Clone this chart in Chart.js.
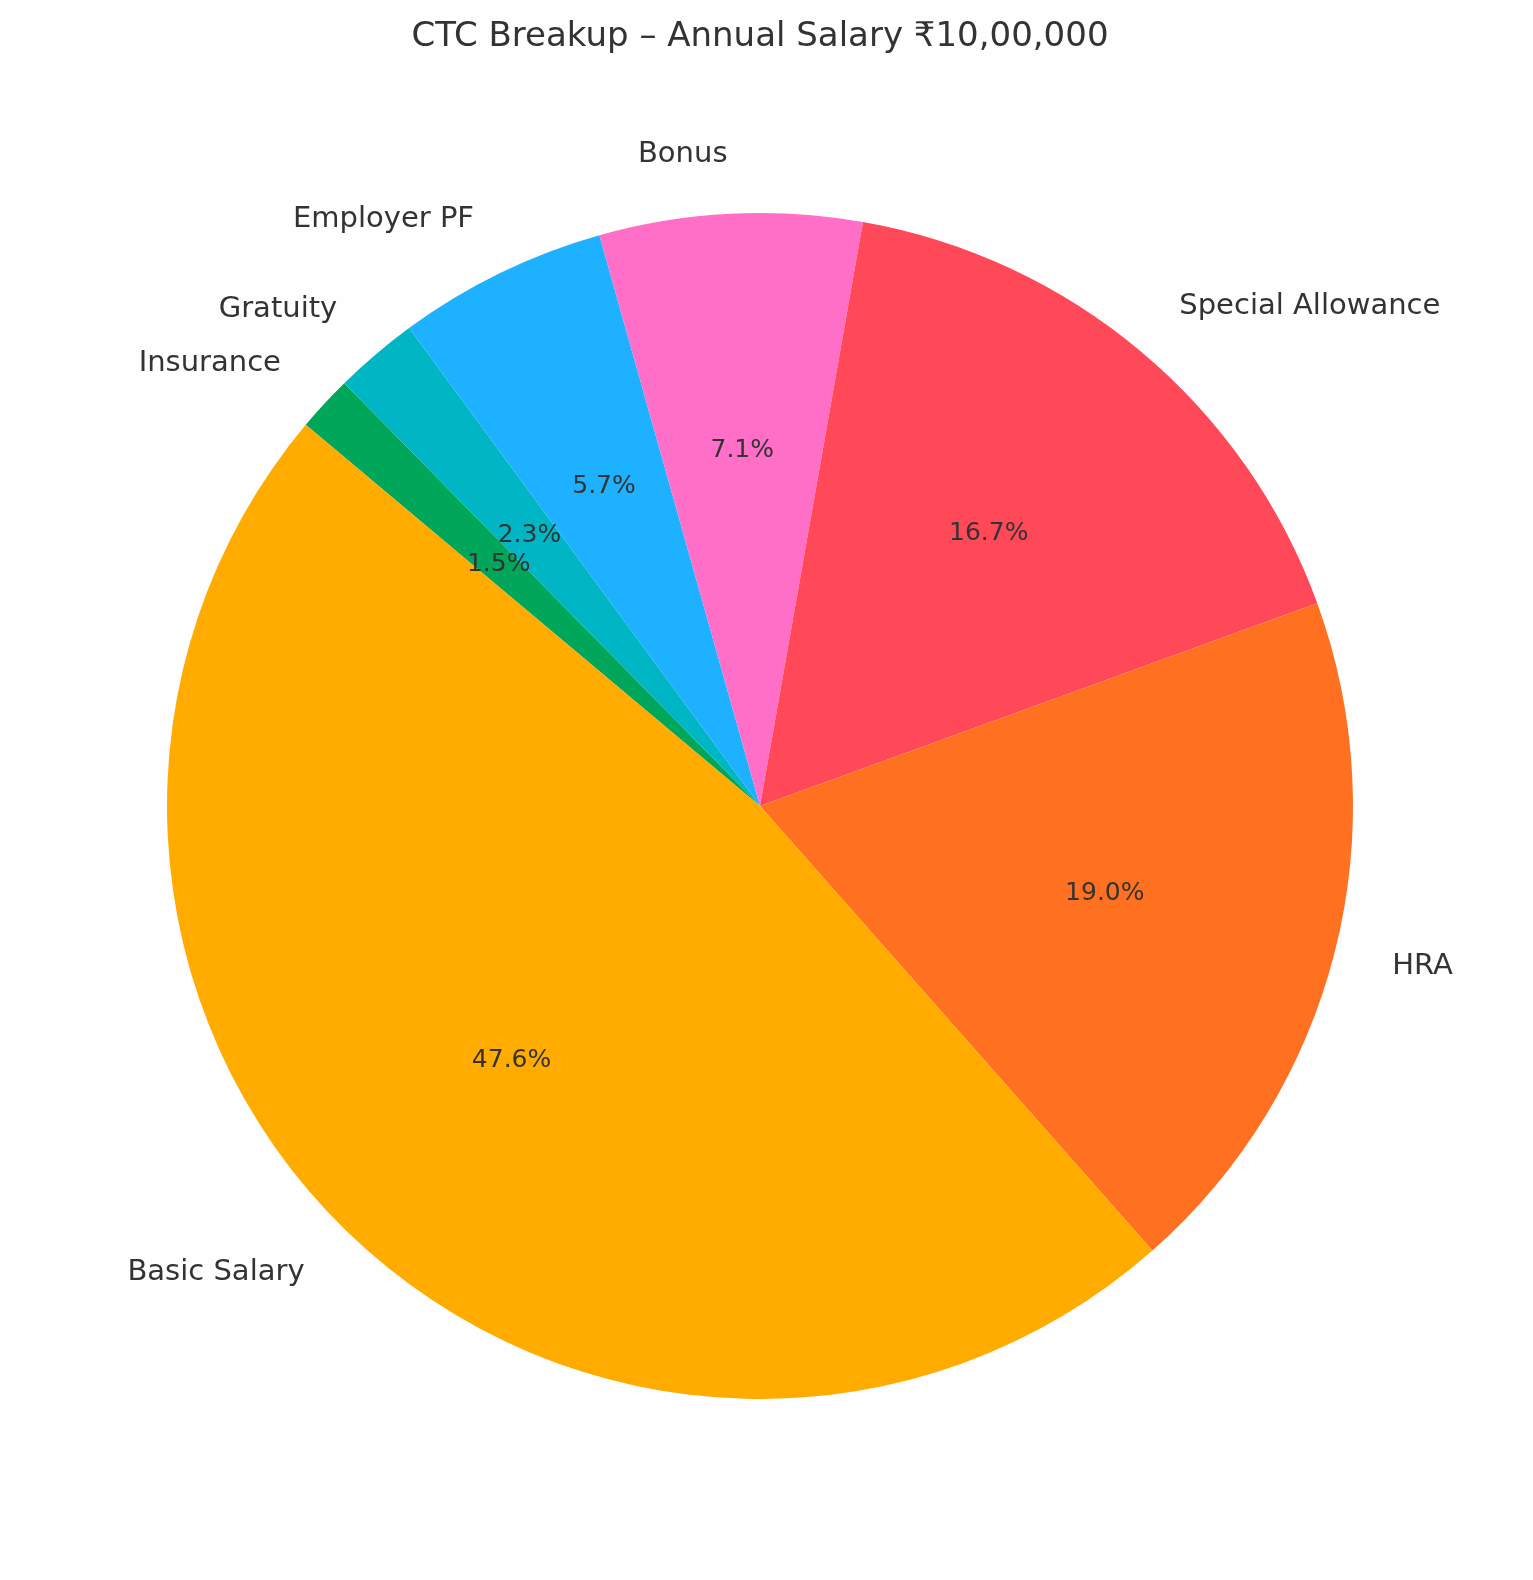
<!DOCTYPE html>
<html>
<head>
<meta charset="utf-8">
<script src="https://cdn.jsdelivr.net/npm/chart.js@4"></script>
<style>
  body { margin: 0; background: #fefefe; }
  #wrap { width: 1533px; height: 1580px; }
</style>
</head>
<body>
<div id="wrap"><canvas id="ctc" width="1533" height="1580"></canvas></div>
<script>
// Components in matplotlib order (counterclockwise from 140 deg)
const components = ["Basic Salary", "HRA", "Special Allowance", "Bonus", "Employer PF", "Gratuity", "Insurance"];
const amounts = [500000, 200000, 175000, 75000, 60000, 24000, 16000];
const sliceColors = ["#ffab00", "#ff7020", "#ff4858", "#ff6ec7", "#1eb1ff", "#00b5c4", "#00a65a"];

// Chart.js draws clockwise, so reverse to get the same layout
const labels = components.slice().reverse();
const values = amounts.slice().reverse();
const colors = sliceColors.slice().reverse();
const total = values.reduce((a, b) => a + b, 0);

const textPlugin = {
  id: "pieText",
  afterDraw(chart) {
    const ctx = chart.ctx;
    ctx.save();
    ctx.fillStyle = "#333333";
    ctx.textAlign = "center";
    ctx.textBaseline = "middle";
    ctx.font = "34px 'DejaVu Sans'";
    ctx.fillText("CTC Breakup \u2013 Annual Salary \u20b910,00,000", 760, 37);

    chart.getDatasetMeta(0).data.forEach((arc, i) => {
      const mid = (arc.startAngle + arc.endAngle) / 2;
      const r = arc.outerRadius;
      const cx = Math.cos(mid), cy = Math.sin(mid);
      // percentage inside
      ctx.font = "25px 'DejaVu Sans'";
      ctx.textAlign = "center";
      const pct = (values[i] / total * 100).toFixed(1) + "%";
      ctx.fillText(pct, arc.x + cx * r * 0.6, arc.y + cy * r * 0.6);
      // category label outside
      ctx.font = "29px 'DejaVu Sans'";
      ctx.textAlign = cx >= 0 ? "left" : "right";
      ctx.fillText(labels[i], arc.x + cx * r * 1.1, arc.y + cy * r * 1.1);
    });
    ctx.restore();
  }
};

new Chart(document.getElementById("ctc"), {
  type: "pie",
  data: {
    labels: labels,
    datasets: [{
      data: values,
      backgroundColor: colors,
      borderWidth: 0
    }]
  },
  options: {
    responsive: false,
    animation: false,
    devicePixelRatio: 1,
    rotation: -50,
    layout: { padding: { left: 167, right: 180, top: 213, bottom: 181 } },
    plugins: {
      legend: { display: false },
      tooltip: { enabled: false }
    }
  },
  plugins: [textPlugin]
});
</script>
</body>
</html>
